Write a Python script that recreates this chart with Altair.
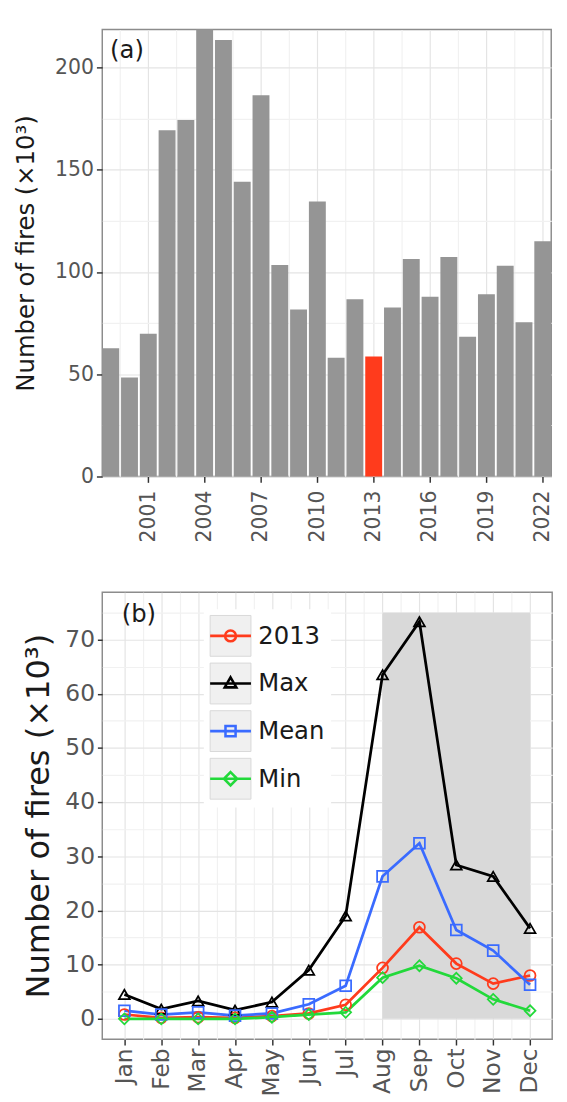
import altair as alt
import pandas as pd

# ---------------- data: panel (a) ----------------
years = [1999, 2000, 2001, 2002, 2003, 2004, 2005, 2006, 2007, 2008, 2009, 2010,
         2011, 2012, 2013, 2014, 2015, 2016, 2017, 2018, 2019, 2020, 2021, 2022]
annual_fires = [62.7, 48.4, 69.8, 169.3, 174.4, 218.6, 213.5, 144.2, 186.5, 103.4, 81.7, 134.5,
                58.1, 86.7, 58.7, 82.7, 106.4, 87.9, 107.4, 68.3, 89.1, 103.1, 75.4, 115.0]
highlight_year = 2013

# ---------------- data: panel (b) ----------------
month_numbers = [1, 2, 3, 4, 5, 6, 7, 8, 9, 10, 11, 12]
month_labels = ["Jan", "Feb", "Mar", "Apr", "May", "Jun", "Jul", "Aug", "Sep", "Oct", "Nov", "Dec"]
series_names = ["2013", "Max", "Mean", "Min"]
fires_2013 = [0.8, 0.2, 0.3, 0.2, 0.5, 1.0, 2.6, 9.4, 16.9, 10.2, 6.5, 8.0]
fires_max = [4.5, 1.8, 3.3, 1.6, 3.1, 9.0, 19.0, 63.5, 73.3, 28.4, 26.3, 16.7]
fires_mean = [1.5, 0.8, 1.2, 0.6, 1.0, 2.7, 6.1, 26.3, 32.4, 16.4, 12.6, 6.3]
fires_min = [0.0, 0.0, 0.0, 0.0, 0.3, 0.8, 1.2, 7.6, 9.8, 7.5, 3.6, 1.5]
season_start = [8]
season_end = [12]
season_top = [75]
panel_labels = ["(a)", "(b)"]

# tick / grid positions
year_grid = [1999.5, 2001, 2002.5, 2004, 2005.5, 2007, 2008.5, 2010, 2011.5, 2013,
             2014.5, 2016, 2017.5, 2019, 2020.5, 2022]
top_y_grid = [0, 25, 50, 75, 100, 125, 150, 175, 200]
month_grid = [1, 1.5, 2, 2.5, 3, 3.5, 4, 4.5, 5, 5.5, 6, 6.5, 7, 7.5, 8, 8.5, 9, 9.5,
              10, 10.5, 11, 11.5, 12]
bottom_y_grid = [0, 5, 10, 15, 20, 25, 30, 35, 40, 45, 50, 55, 60, 65, 70, 75]

# ---------------- styling ----------------
FONT = "DejaVu Sans"
RED = "#ff3b1c"
BAR_GREY = "#959595"
BLUE = "#3a6bff"
GREEN = "#22d93a"
LABEL_GREY = "#555555"
TITLE_COL = "#1a1a1a"
MAJOR = "#e4e4e4"
MINOR = "#f1f1f1"
series_colors = [RED, "#000000", BLUE, GREEN]
point_shapes = ["circle", "triangle-up", "square", "diamond"]
_ext = "M0,-0.89M0,0.89"
legend_paths = [
    _ext + "M-1.05,0H1.05M0.28,0A0.28,0.28,0,1,1,-0.28,0A0.28,0.28,0,1,1,0.28,0Z",
    _ext + "M-1.05,0H1.05M0,-0.32L0.3,0.2L-0.3,0.2Z",
    _ext + "M-1.05,0H1.05M-0.26,-0.26H0.26V0.26H-0.26Z",
    _ext + "M-1.05,0H1.05M0,-0.34L0.34,0L0,0.34L-0.34,0Z",
]


def cond(test, a, b):
    return {"condition": {"test": test, "value": a}, "value": b}


# ---------------- panel (a) ----------------
df_year = pd.DataFrame({"year": years, "fires": annual_fires})

top_x_axis = alt.Axis(
    values=year_grid, format="d",
    labelExpr="datum.value % 3 === 0 ? datum.label : ''",
    labelAngle=270, labelFontSize=21, labelColor=LABEL_GREY, labelPadding=8,
    tickSize=6, tickWidth=1.5, tickColor="#333333",
    tickOpacity=cond("datum.value % 3 === 0", 1, 0),
    grid=True, gridColor=cond("datum.value % 3 === 0", MAJOR, MINOR), gridWidth=1.2,
    domain=False,
)
top_y_axis = alt.Axis(
    values=top_y_grid,
    labelExpr="datum.value % 50 === 0 ? datum.label : ''",
    labelFontSize=21, labelColor=LABEL_GREY, labelPadding=3,
    tickSize=6, tickWidth=1.5, tickColor="#333333",
    tickOpacity=cond("datum.value % 50 === 0", 1, 0),
    grid=True, gridColor=cond("datum.value % 50 === 0", MAJOR, MINOR), gridWidth=1.2,
    domain=False,
    title="Number of fires (×10³)", titleFontSize=25, titleColor=TITLE_COL,
    titleFontWeight="normal", titlePadding=17,
)

bars = (
    alt.Chart(df_year)
    .transform_calculate(x0="datum.year - 0.45", x1="datum.year + 0.45")
    .mark_rect()
    .encode(
        x=alt.X("x0:Q", scale=alt.Scale(domain=[1998.55, 2022.45], nice=False, zero=False),
                axis=top_x_axis, title=None),
        x2="x1:Q",
        y=alt.Y("fires:Q", scale=alt.Scale(domain=[0, max(annual_fires)], nice=False),
                axis=top_y_axis),
        y2=alt.datum(0),
        color=alt.condition(alt.datum.year == highlight_year, alt.value(RED), alt.value(BAR_GREY)),
    )
)
label_a = alt.Chart(pd.DataFrame({"label": [panel_labels[0]]})).mark_text(
    align="left", baseline="middle", fontSize=25, font=FONT, color=TITLE_COL
).encode(text="label:N", x=alt.value(8), y=alt.value(21))

top = alt.layer(bars, label_a).properties(width=462, height=460)

# ---------------- panel (b) ----------------
rows = []
for name, vals in zip(series_names, [fires_2013, fires_max, fires_mean, fires_min]):
    for m, v in zip(month_numbers, vals):
        rows.append({"month": m, "fires": v, "series": name})
df_month = pd.DataFrame(rows)
df_season = pd.DataFrame({"start": season_start, "end": season_end,
                          "bottom": [0] * len(season_top), "top": season_top})

month_expr = "datum.value % 1 === 0 ? [" + ",".join("'%s'" % m for m in month_labels) + "][datum.value - 1] : ''"

bot_x_axis = alt.Axis(
    values=month_grid, labelExpr=month_expr,
    labelAngle=270, labelFontSize=24, labelColor=LABEL_GREY, labelPadding=3,
    tickSize=6, tickWidth=1.5, tickColor="#333333",
    tickOpacity=cond("datum.value % 1 === 0", 1, 0),
    grid=True, gridColor=cond("datum.value % 1 === 0", MAJOR, MINOR), gridWidth=1.2,
    domain=False, title=None,
)
bot_y_axis = alt.Axis(
    values=bottom_y_grid,
    labelExpr="datum.value % 10 === 0 ? datum.label : ''",
    labelFontSize=24, labelColor=LABEL_GREY, labelPadding=3,
    tickSize=5, tickWidth=1.5, tickColor="#333333",
    tickOpacity=cond("datum.value % 10 === 0", 1, 0),
    grid=True, gridColor=cond("datum.value % 10 === 0", MAJOR, MINOR), gridWidth=1.2,
    domain=False,
    title="Number of fires (×10³)", titleFontSize=33, titleColor=TITLE_COL,
    titleFontWeight="normal", titlePadding=10,
)

xs = alt.Scale(domain=[0.4, 12.6], nice=False, zero=False)
ys = alt.Scale(domain=[-3.75, 78.75], nice=False, zero=False)
cscale = alt.Scale(domain=series_names, range=series_colors)

shade = alt.Chart(df_season).mark_rect(color="#d9d9d9").encode(
    x=alt.X("start:Q", scale=xs, axis=bot_x_axis),
    x2="end:Q",
    y=alt.Y("bottom:Q", scale=ys, axis=bot_y_axis),
    y2="top:Q",
)

lines = alt.Chart(df_month).mark_line(strokeWidth=2.8).encode(
    x=alt.X("month:Q", scale=xs, axis=bot_x_axis),
    y=alt.Y("fires:Q", scale=ys, axis=bot_y_axis),
    color=alt.Color("series:N", scale=cscale, legend=None),
)

points = alt.Chart(df_month).mark_point(filled=False, size=125, strokeWidth=1.8, opacity=1).encode(
    x=alt.X("month:Q", scale=xs, axis=bot_x_axis),
    y=alt.Y("fires:Q", scale=ys, axis=bot_y_axis),
    color=alt.Color("series:N", scale=cscale, legend=None),
    shape=alt.Shape("series:N", scale=alt.Scale(domain=series_names, range=point_shapes), legend=None),
)

LX, LY = 104.5, 17.5
ROW_PAD = 2
key_names = [s + "\u200b" for s in series_names]

key_boxes = alt.Chart(df_month).transform_filter("false").mark_square(
    color="#f0f0f0", stroke="#d8d8d8", strokeWidth=1, opacity=1
).encode(
    fill=alt.Fill(
        "series:N",
        scale=alt.Scale(domain=key_names, range=["#f0f0f0"] * len(key_names)),
        legend=alt.Legend(
            orient="none", legendX=LX, legendY=LY, title=None, padding=6,
            symbolType="square", symbolSize=1764, symbolStrokeColor="#d8d8d8",
            symbolStrokeWidth=1, symbolFillColor="#f0f0f0",
            labelFontSize=25, labelFont=FONT, labelColor="transparent", labelOffset=7,
            rowPadding=ROW_PAD, fillColor="white", zindex=1,
        ),
    )
)

legend_kw = dict(
    orient="none", legendX=LX, legendY=LY, title=None, padding=6,
    symbolSize=1600, symbolStrokeWidth=2.6,
    labelFontSize=25, labelFont=FONT, labelColor=TITLE_COL, labelOffset=7,
    rowPadding=ROW_PAD, zindex=2,
)
key_lines = alt.Chart(df_month).transform_filter("false").mark_point(
    filled=False, strokeWidth=2.6, opacity=1
).encode(
    color=alt.Color("series:N", scale=cscale, legend=alt.Legend(**legend_kw)),
    shape=alt.Shape("series:N", scale=alt.Scale(domain=series_names, range=legend_paths),
                    legend=alt.Legend(**legend_kw)),
)

label_b = alt.Chart(pd.DataFrame({"label": [panel_labels[1]]})).mark_text(
    align="left", baseline="middle", fontSize=25, font=FONT, color=TITLE_COL
).encode(text="label:N", x=alt.value(20), y=alt.value(23))

bottom = (
    alt.layer(shade, lines, points, key_boxes, key_lines, label_b)
    .resolve_scale(color="independent", shape="independent")
    .properties(width=463, height=460)
)

chart = (
    alt.concat(top, bottom, columns=1, spacing=49, align="none")
    .resolve_scale(color="independent", shape="independent", fill="independent")
    .configure(font=FONT)
    .configure_view(stroke="#8c8c8c", strokeWidth=1.5)
    .configure_axis(labelFont=FONT, titleFont=FONT)
)

chart.save("out.html", embed_options={"renderer": "svg", "actions": False})
